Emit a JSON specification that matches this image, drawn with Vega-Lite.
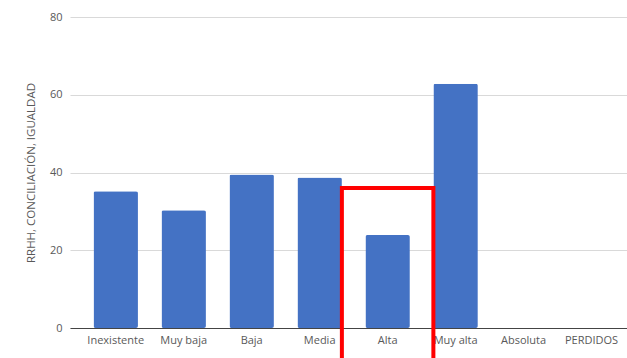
{
  "$schema": "https://vega.github.io/schema/vega-lite/v6.json",
  "autosize": {"type": "none"},
  "width": 557,
  "height": 311,
  "padding": {"left": 70, "top": 17, "right": 0, "bottom": 30},
  "background": "white",
  "config": {
    "view": {"stroke": null},
    "font": "Open Sans",
    "axis": {"labelColor": "#595959", "titleColor": "#595959", "labelFont": "Open Sans", "titleFont": "Open Sans"}
  },
  "datasets": {
    "niveles": [
      {"nivel": "Inexistente", "valor": 35.2},
      {"nivel": "Muy baja", "valor": 30.3},
      {"nivel": "Baja", "valor": 39.5},
      {"nivel": "Media", "valor": 38.7},
      {"nivel": "Alta", "valor": 23.9},
      {"nivel": "Muy alta", "valor": 62.8},
      {"nivel": "Absoluta", "valor": 0},
      {"nivel": "PERDIDOS", "valor": 0}
    ],
    "resaltado": [
      {"desde": "Media", "hasta": "Muy alta", "arriba": 36, "abajo": -10}
    ]
  },
  "layer": [
    {
      "data": {"name": "niveles"},
      "mark": {"type": "bar", "color": "#4472C4", "cornerRadius": 2},
      "encoding": {
        "x": {
          "field": "nivel", "type": "nominal",
          "scale": {
            "domain": ["Inexistente", "Muy baja", "Baja", "Media", "Alta", "Muy alta", "Absoluta", "PERDIDOS"],
            "paddingInner": 0.346, "paddingOuter": 0.27, "align": 0.64
          },
          "axis": {"title": null, "labelAngle": 0, "ticks": false, "domainColor": "#444444", "domainWidth": 1.2, "labelFontSize": 11, "labelPadding": 6}
        },
        "y": {
          "field": "valor", "type": "quantitative",
          "scale": {"domain": [0, 80], "nice": false},
          "axis": {"title": "RRHH, CONCILIACIÓN, IGUALDAD", "values": [0, 20, 40, 60, 80], "ticks": false, "domain": false, "gridColor": "#d9d9d9", "labelFontSize": 11, "labelPadding": 8, "titleFontSize": 11.5, "titleFontWeight": "normal", "titlePadding": 13}
        }
      }
    },
    {
      "data": {"name": "resaltado"},
      "mark": {"type": "rect", "fill": null, "stroke": "#FF0000", "strokeWidth": 4},
      "encoding": {
        "x": {"field": "desde", "type": "nominal", "bandPosition": 1},
        "x2": {"field": "hasta", "bandPosition": 0},
        "y": {"field": "arriba", "type": "quantitative"},
        "y2": {"field": "abajo"}
      }
    }
  ]
}
